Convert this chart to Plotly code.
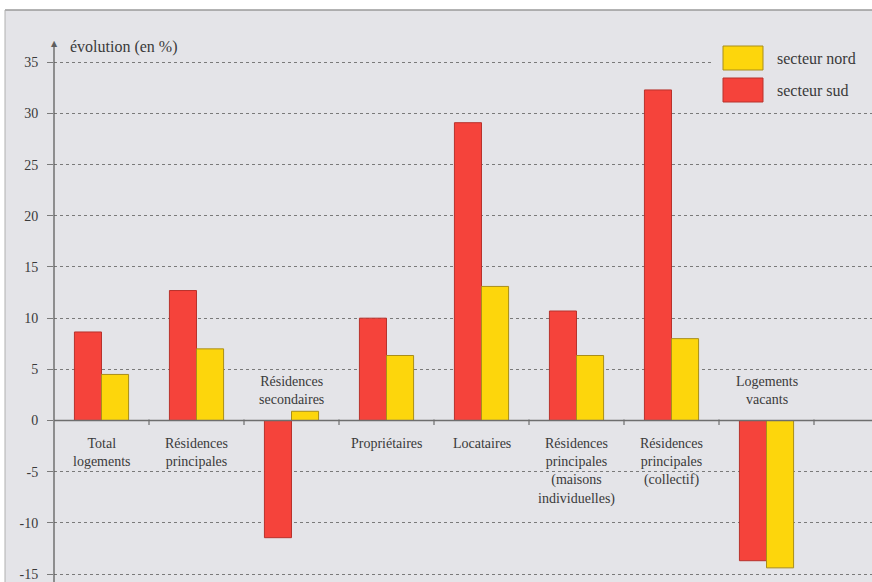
import plotly.graph_objects as go

categories = ["Total<br>logements", "Résidences<br>principales", "Résidences<br>secondaires",
              "Propriétaires", "Locataires", "Résidences<br>principales<br>(maisons<br>individuelles)",
              "Résidences<br>principales<br>(collectif)", "Logements<br>vacants"]
secteur_sud = [8.65, 12.7, -11.45, 10.0, 29.1, 10.7, 32.3, -13.7]
secteur_nord = [4.5, 7.0, 0.9, 6.35, 13.1, 6.35, 8.0, -14.4]
y_ticks = [-15, -10, -5, 0, 5, 10, 15, 20, 25, 30, 35]

RED = "#f5433b"
RED_LINE = "#b8322c"
YEL = "#fdd60c"
YEL_LINE = "#a98e1a"
BG = "#e4e4e8"
TXT = "#3a3a3a"
AX = "#5e5e5e"
FONT = "Liberation Serif"

W, H = 872, 582
ML, MT = 54, 10
PW, PH = W - ML, H - MT

n = len(categories)
xs = list(range(n))
x_min = -0.5
x_max = x_min + PW / 95.0
y_top = (420.5 - MT) / 10.234
y_bot = -(H - 420.5) / 10.234

fig = go.Figure()
fig.add_trace(go.Bar(x=xs, y=secteur_sud, name="secteur sud", marker=dict(color=RED, line=dict(color=RED_LINE, width=1)), showlegend=False))
fig.add_trace(go.Bar(x=xs, y=secteur_nord, name="secteur nord", marker=dict(color=YEL, line=dict(color=YEL_LINE, width=1)), showlegend=False))

def px_x(p):
    return (p - ML) / PW

def px_y(p):
    return (H - p) / PH

shapes = []
shapes.append(dict(type="rect", xref="paper", yref="paper", x0=-ML / PW, x1=1.0, y0=1, y1=1 + MT / PH,
                   fillcolor="white", line=dict(width=0), layer="below"))
shapes.append(dict(type="rect", xref="paper", yref="paper", x0=-ML / PW, x1=px_x(5), y0=0, y1=1 + MT / PH,
                   fillcolor="white", line=dict(width=0), layer="below"))
shapes.append(dict(type="line", xref="paper", yref="paper", x0=px_x(5), x1=1.0, y0=1, y1=1,
                   line=dict(color="#9a9a9a", width=1.5)))
shapes.append(dict(type="line", xref="paper", yref="paper", x0=px_x(5), x1=px_x(5), y0=0, y1=1,
                   line=dict(color="#b0b0b0", width=1)))
# legend background and swatches
shapes.append(dict(type="rect", xref="paper", yref="paper", x0=px_x(712), x1=1.0, y0=px_y(106), y1=px_y(36),
                   fillcolor=BG, line=dict(width=0), layer="above"))
shapes.append(dict(type="rect", xref="paper", yref="paper", x0=px_x(723), x1=px_x(763), y0=px_y(70), y1=px_y(46),
                   fillcolor=YEL, line=dict(color=YEL_LINE, width=1), layer="above"))
shapes.append(dict(type="rect", xref="paper", yref="paper", x0=px_x(723), x1=px_x(763), y0=px_y(102), y1=px_y(78),
                   fillcolor=RED, line=dict(color=RED_LINE, width=1), layer="above"))
# vertical axis line
shapes.append(dict(type="line", xref="paper", yref="paper", x0=0, x1=0, y0=0, y1=px_y(45),
                   line=dict(color=AX, width=1.3), layer="above"))
# zero line
shapes.append(dict(type="line", xref="paper", yref="y", x0=0, x1=1, y0=0, y1=0,
                   line=dict(color="#6e6e6e", width=1.5), layer="above"))
for i in range(1, n + 1):
    shapes.append(dict(type="line", xref="x", yref="y", x0=i - 0.5, x1=i - 0.5, y0=0.1, y1=-0.45,
                       line=dict(color="#6e6e6e", width=1.2), layer="above"))

annotations = []
annotations.append(dict(xref="paper", yref="paper", x=0, y=px_y(43), xanchor="center", yanchor="middle",
                        text="▲", showarrow=False, font=dict(family="DejaVu Sans", size=8, color=AX)))
annotations.append(dict(xref="paper", yref="paper", x=px_x(68), y=px_y(47), xanchor="left", yanchor="middle",
                        text="évolution (en %)", showarrow=False, font=dict(family=FONT, size=16, color=TXT)))
annotations.append(dict(xref="paper", yref="paper", x=px_x(775), y=px_y(58), xanchor="left", yanchor="middle",
                        text="secteur nord", showarrow=False, font=dict(family=FONT, size=16, color=TXT)))
annotations.append(dict(xref="paper", yref="paper", x=px_x(775), y=px_y(90), xanchor="left", yanchor="middle",
                        text="secteur sud", showarrow=False, font=dict(family=FONT, size=16, color=TXT)))
for i, c in enumerate(categories):
    neg = min(secteur_sud[i], secteur_nord[i]) < 0
    annotations.append(dict(xref="x", yref="y", x=xs[i], y=0, text=c, showarrow=False, align="center",
                            yanchor="bottom" if neg else "top", yshift=12 if neg else -13,
                            font=dict(family=FONT, size=14, color=TXT)))

fig.update_layout(
    width=W, height=H,
    margin=dict(l=ML, r=0, t=MT, b=0, pad=0),
    paper_bgcolor=BG, plot_bgcolor=BG,
    barmode="group", bargap=0.43, bargroupgap=0,
    shapes=shapes, annotations=annotations,
    font=dict(family=FONT, color=TXT),
    xaxis=dict(range=[x_min, x_max], showticklabels=False, showgrid=False, zeroline=False, showline=False, ticks=""),
    yaxis=dict(range=[y_bot, y_top], tickvals=y_ticks, ticktext=[str(v) for v in y_ticks],
               showgrid=True, gridcolor="#7a7a7a", griddash="dot", gridwidth=1,
               zeroline=False, showline=False, ticks="outside", ticklen=6, tickcolor="#7a7a7a",
               ticklabelstandoff=6, tickfont=dict(family=FONT, size=14, color=TXT)),
)

fig.write_html("out.html", config={"displayModeBar": False})
